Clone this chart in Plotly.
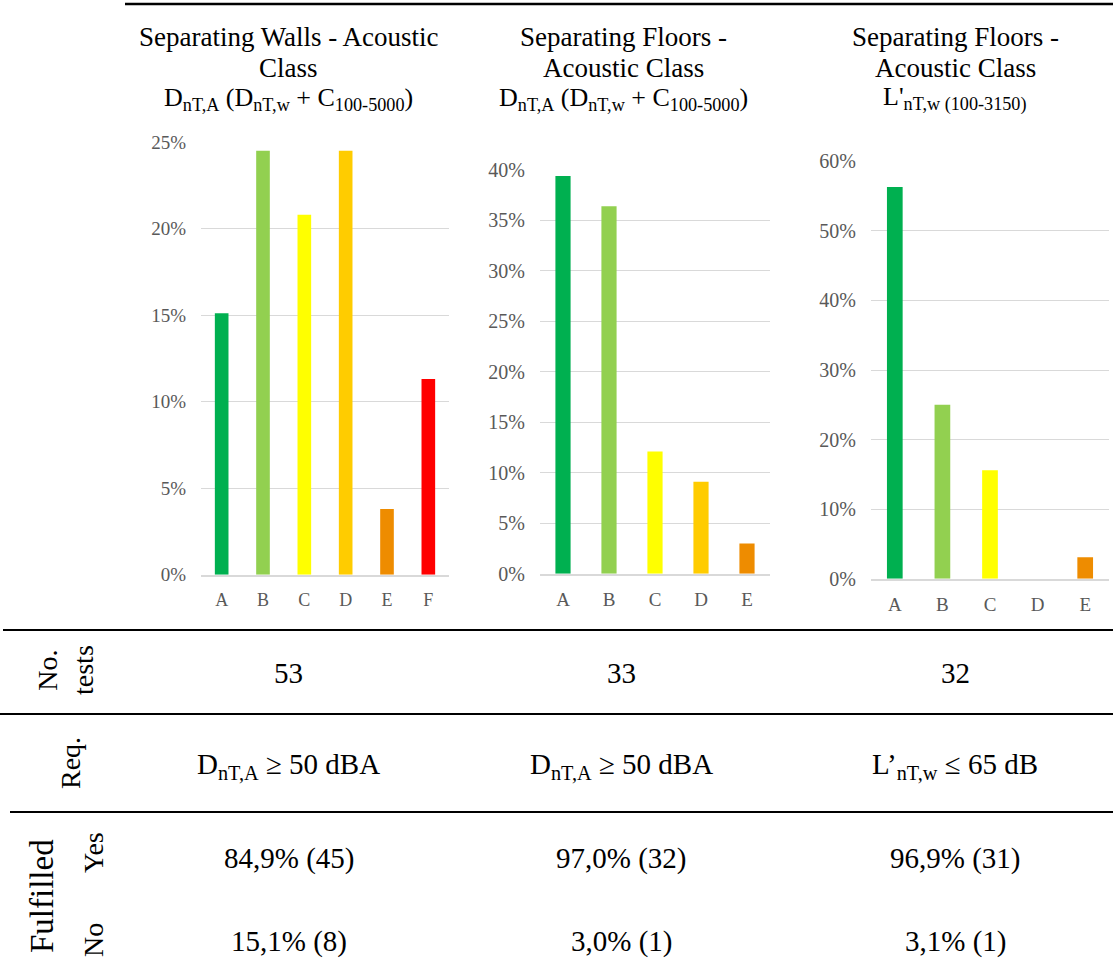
import plotly.graph_objects as go

W, H = 1113, 980

# Share of tests per acoustic class (%)
classes_walls = ["A", "B", "C", "D", "E", "F"]
share_walls = [15.1, 24.5, 20.8, 24.5, 3.8, 11.3]

classes_floors_airborne = ["A", "B", "C", "D", "E"]
share_floors_airborne = [39.4, 36.4, 12.1, 9.1, 3.0]

classes_floors_impact = ["A", "B", "C", "D", "E"]
share_floors_impact = [56.3, 25.0, 15.6, 0.0, 3.1]

class_colors = {
    "A": "#00B050",
    "B": "#92D050",
    "C": "#FFFF00",
    "D": "#FFCC00",
    "E": "#EE8C00",
    "F": "#FF0000",
}

# Panel headings, one entry per line
panel_titles = [
    ["Separating Walls - Acoustic", "Class",
     "D<sub>nT,A</sub> (D<sub>nT,w</sub> + C<sub>100-5000</sub>)"],
    ["Separating Floors -", "Acoustic Class",
     "D<sub>nT,A</sub> (D<sub>nT,w</sub> + C<sub>100-5000</sub>)"],
    ["Separating Floors -", "Acoustic Class",
     "L'<sub>nT,w (100-3150)</sub>"],
]

# Summary table
n_tests = ["53", "33", "32"]
requirements = [
    "D<sub>nT,A</sub> ≥ 50 dBA",
    "D<sub>nT,A</sub> ≥ 50 dBA",
    "L’<sub>nT,w</sub> ≤ 65 dB",
]
fulfilled_yes = ["84,9% (45)", "97,0% (32)", "96,9% (31)"]
fulfilled_no = ["15,1% (8)", "3,0% (1)", "3,1% (1)"]

SERIF = "Liberation Serif, Times New Roman, serif"
GRID = "#D9D9D9"
TICK_GREY = "#595959"


def px_x(x):
    return x / W


def px_y(y):
    return 1 - y / H


# Panel geometry in pixels: plot-area edges, y of 0 % and of the top tick
panels = [
    dict(cats=classes_walls, vals=share_walls, x0=201, x1=449, y0=574.7, ytop=142, top=25, dtick=5, tf=19, cf=18),
    dict(cats=classes_floors_airborne, vals=share_floors_airborne, x0=540, x1=770, y0=573.7, ytop=170, top=40, dtick=5, tf=20, cf=19),
    dict(cats=classes_floors_impact, vals=share_floors_impact, x0=871, x1=1109, y0=578.7, ytop=161.3, top=60, dtick=10, tf=20, cf=19),
]

fig = go.Figure()
layout = {}
for i, p in enumerate(panels, start=1):
    suffix = "" if i == 1 else str(i)
    fig.add_trace(
        go.Bar(
            x=p["cats"],
            y=p["vals"],
            marker=dict(color=[class_colors[c] for c in p["cats"]], line=dict(width=0)),
            xaxis="x" + suffix,
            yaxis="y" + suffix,
            showlegend=False,
            hoverinfo="x+y",
        )
    )
    layout["xaxis" + suffix] = dict(
        domain=[px_x(p["x0"]), px_x(p["x1"])],
        anchor="y" + suffix,
        type="category",
        automargin=False,
        showgrid=False,
        showline=True,
        linecolor=GRID,
        linewidth=1.5,
        ticks="",
        ticklabelstandoff=8,
        tickfont=dict(family=SERIF, size=p["cf"], color=TICK_GREY),
        fixedrange=True,
    )
    layout["yaxis" + suffix] = dict(
        domain=[px_y(p["y0"]), px_y(p["ytop"])],
        anchor="x" + suffix,
        automargin=False,
        range=[0, p["top"]],
        dtick=p["dtick"],
        tick0=0,
        ticksuffix="%",
        showgrid=True,
        gridcolor=GRID,
        gridwidth=1,
        zeroline=False,
        showline=False,
        ticks="",
        ticklabelstandoff=14,
        tickfont=dict(family=SERIF, size=p["tf"], color=TICK_GREY),
        fixedrange=True,
    )

annotations = []
title_centers = [289, 623, 955]
title_line_y = [37, 68, 99]
title_line_size = [27, 27, 26]
col_centers = [289, 621, 955]

for cx, lines in zip(title_centers, panel_titles):
    for ly, fs, line in zip(title_line_y, title_line_size, lines):
        annotations.append(dict(
            text=line, x=px_x(cx), y=px_y(ly), xref="paper", yref="paper",
            xanchor="center", yanchor="middle", showarrow=False,
            font=dict(family=SERIF, size=fs, color="black"), align="center",
        ))

rows = [(n_tests, 673), (requirements, 766), (fulfilled_yes, 858), (fulfilled_no, 941)]
for values, yc in rows:
    for cx, v in zip(col_centers, values):
        annotations.append(dict(
            text=v, x=px_x(cx), y=px_y(yc), xref="paper", yref="paper",
            xanchor="center", yanchor="middle", showarrow=False,
            font=dict(family=SERIF, size=29, color="black"),
        ))

# Row headers, rotated
row_labels = [
    ("No.<br>tests", 65, 670, 28),
    ("Req.", 70, 763, 28),
    ("Fulfilled", 42, 896, 33),
    ("Yes", 93, 853, 28),
    ("No", 93, 940, 28),
]
for txt, x, y, size in row_labels:
    annotations.append(dict(
        text=txt, x=px_x(x), y=px_y(y), xref="paper", yref="paper",
        xanchor="center", yanchor="middle", showarrow=False, textangle=-90,
        font=dict(family=SERIF, size=size, color="black"),
    ))

shapes = [
    dict(type="line", xref="paper", yref="paper", x0=px_x(125), x1=1, y0=px_y(4), y1=px_y(4),
         line=dict(color="black", width=2.5)),
    dict(type="line", xref="paper", yref="paper", x0=px_x(3), x1=1, y0=px_y(630), y1=px_y(630),
         line=dict(color="black", width=2)),
    dict(type="line", xref="paper", yref="paper", x0=0, x1=1, y0=px_y(714), y1=px_y(714),
         line=dict(color="black", width=2)),
    dict(type="line", xref="paper", yref="paper", x0=px_x(10), x1=1, y0=px_y(812), y1=px_y(812),
         line=dict(color="black", width=2)),
]

fig.update_layout(
    template="none",
    width=W,
    height=H,
    margin=dict(l=0, r=0, t=0, b=0, pad=0, autoexpand=False),
    paper_bgcolor="white",
    plot_bgcolor="white",
    bargap=0.67,
    annotations=annotations,
    shapes=shapes,
    **layout,
)

fig.write_html(
    "out.html",
    config={"displayModeBar": False},
    post_script="document.body.style.margin='0';document.body.style.overflow='hidden';",
)
